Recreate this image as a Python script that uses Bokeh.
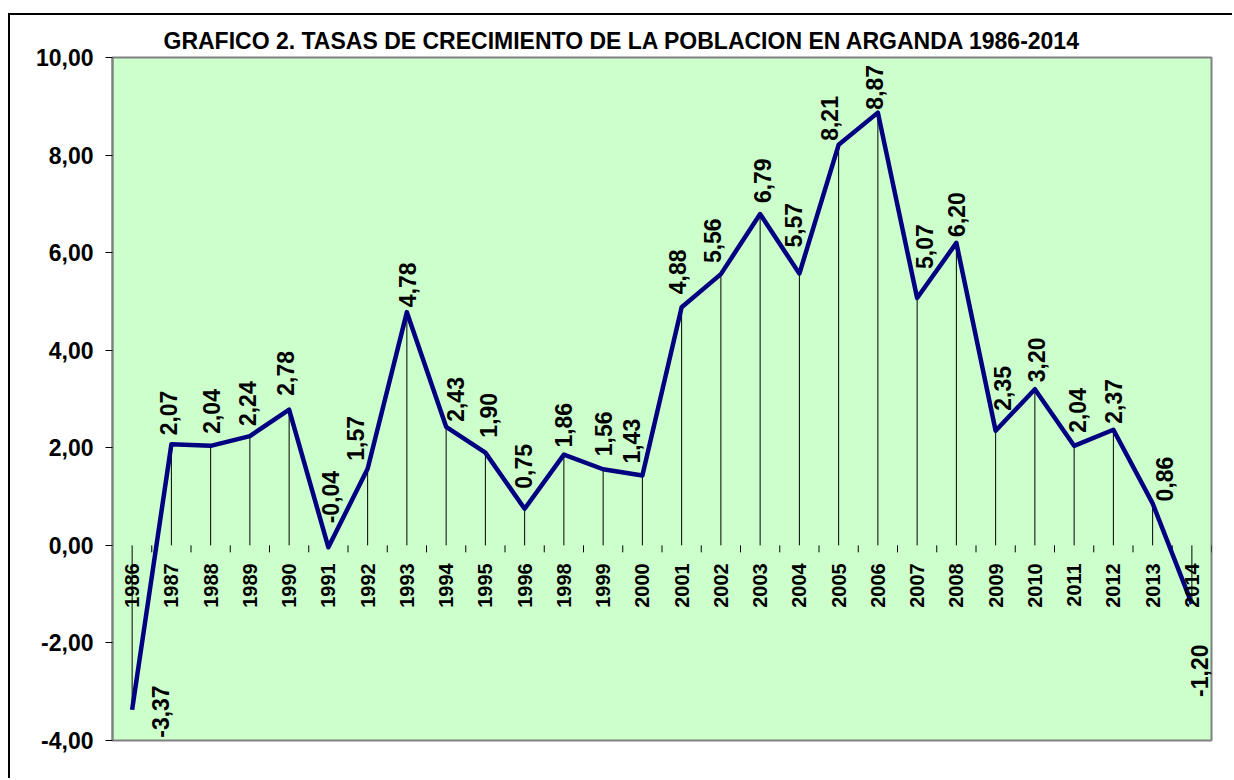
from bokeh.plotting import figure
from bokeh.models import (Range1d, LinearAxis, FixedTicker, CustomJSTickFormatter,
                          ColumnDataSource, Title)
from bokeh.core.properties import value
from bokeh.embed import file_html
from bokeh.resources import INLINE
import math

# ---- data ----
years = ["1986", "1987", "1988", "1989", "1990", "1991", "1992", "1993", "1994",
         "1995", "1996", "1998", "1999", "2000", "2001", "2002", "2003", "2004",
         "2005", "2006", "2007", "2008", "2009", "2010", "2011", "2012", "2013", "2014"]
rates = [-3.37, 2.07, 2.04, 2.24, 2.78, -0.04, 1.57, 4.78, 2.43, 1.90, 0.75, 1.86,
         1.56, 1.43, 4.88, 5.56, 6.79, 5.57, 8.21, 8.87, 5.07, 6.20, 2.35, 3.20,
         2.04, 2.37, 0.86, -1.20]
y_ticks = [-4, -2, 0, 2, 4, 6, 8, 10]
title_text = "GRAFICO 2. TASAS DE CRECIMIENTO DE LA POBLACION EN ARGANDA 1986-2014"

# label nudges in screen pixels (layout only)
label_dx = [28, -3, 1, -2, -4, 2, -12, 1, 9, 3, -1, 0, 0, -11, -4, -8, 2, -6, -9, -3,
            7, 0, 7, 2, 3, 0, 12, 8]
label_dy = [28, -9, -12, -10, -14, -24, -8, -5, -5, -15, -20, -7, -13, -12, -13, -11,
            -11, -26, -4, -3, -29, -6, -20, -7, -13, -6, -2, 93]

FONT = "Liberation Sans"
n = len(years)
idx = list(range(n))
labels = [f"{v:.2f}".replace(".", ",") for v in rates]

p = figure(width=1224, height=765, output_backend="svg", toolbar_location=None,
           x_range=Range1d(-0.5, n - 0.5), y_range=Range1d(-4, 10),
           x_axis_type=None, y_axis_type=None,
           min_border_left=102, min_border_right=23, min_border_top=42, min_border_bottom=40)
p.styles = {"margin-top": "13px", "margin-left": "8px",
            "border-top": "2px solid black", "border-left": "2px solid black"}
p.background_fill_color = "#CCFFCC"
p.border_fill_color = "white"
p.outline_line_color = "#808080"
p.outline_line_width = 2

yaxis = LinearAxis(ticker=FixedTicker(ticks=y_ticks),
                   formatter=CustomJSTickFormatter(code="return tick.toFixed(2).replace('.', ',');"))
yaxis.major_label_text_font = FONT
yaxis.major_label_text_font_style = "bold"
yaxis.major_label_text_font_size = "23px"
yaxis.major_label_text_color = "black"
yaxis.major_tick_out = 7
yaxis.major_tick_in = 0
yaxis.major_tick_line_color = "black"
yaxis.minor_tick_line_color = None
yaxis.axis_line_color = "#808080"
yaxis.axis_line_width = 2
yaxis.major_label_standoff = 12
p.add_layout(yaxis, "left")

p.ygrid.ticker = FixedTicker(ticks=[-2, 0, 2, 4, 6, 8])
p.ygrid.grid_line_color = "black"
p.ygrid.grid_line_width = 1
p.xgrid.grid_line_color = None

src = ColumnDataSource(dict(x=idx, y=rates, lab=labels, dx=label_dx, dy=label_dy,
                            zero=[0] * n, yr=years))

# drop lines
p.segment(x0="x", y0="zero", x1="x", y1="y", source=src, line_color="black", line_width=1)

# category axis ticks (between categories) on zero line
px_per_unit = 683 / 14.0
tick_len = 7 / px_per_unit
bounds = [i - 0.5 for i in range(n + 1)]
p.segment(x0=bounds, y0=[0] * len(bounds), x1=bounds, y1=[-tick_len] * len(bounds),
          line_color="black", line_width=1)

# line
p.line(x="x", y="y", source=src, line_color="#000080", line_width=4.5, line_join="round")

# data labels
p.text(x="x", y="y", text="lab", source=src, angle=math.pi / 2, x_offset="dx", y_offset="dy",
       text_align="left", text_baseline="middle", text_font=value(FONT),
       text_font_style="bold", text_font_size="23px", text_color="black")

# category labels
p.text(x="x", y="zero", text="yr", source=src, angle=math.pi / 2, y_offset=18,
       text_align="right", text_baseline="middle", text_font=value(FONT),
       text_font_style="bold", text_font_size="20px", text_color="black")

t = Title(text=title_text, align="left", offset=51, text_font=FONT, text_font_style="bold",
          text_font_size="23px", text_color="black", standoff=8)
p.add_layout(t, "above")

open("out.html", "w").write(file_html(p, INLINE))
